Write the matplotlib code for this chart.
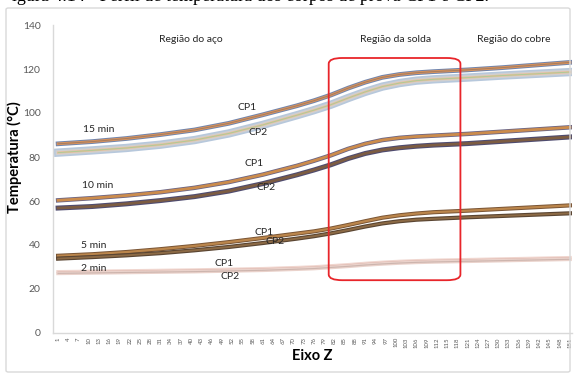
import matplotlib.pyplot as plt
from matplotlib.patches import FancyBboxPatch

# positions along Z where values were read (category index 1..151)
z_pos = [1, 11, 21, 31, 41, 51, 61, 71, 76, 81, 86, 91, 96, 101, 106, 111, 121, 131, 141, 151]

t15_cp1 = [86.0, 87.0, 88.4, 90.2, 92.3, 95.3, 99.2, 103.3, 105.6, 108.2, 111.3, 114.0, 116.2, 117.5, 118.3, 118.8, 119.6, 120.6, 121.8, 123.0]
t15_cp2 = [82.0, 83.0, 84.1, 85.6, 87.7, 90.7, 94.6, 99.0, 101.3, 103.8, 106.8, 109.6, 112.0, 113.6, 114.7, 115.3, 116.1, 117.0, 117.8, 118.6]
t10_cp1 = [60.3, 61.3, 62.5, 64.0, 66.0, 68.6, 72.0, 76.0, 78.3, 80.8, 83.7, 86.0, 87.7, 88.7, 89.3, 89.7, 90.5, 91.5, 92.5, 93.5]
t10_cp2 = [56.8, 57.5, 58.7, 60.2, 62.0, 64.5, 67.9, 71.9, 74.1, 76.5, 79.3, 81.6, 83.2, 84.2, 84.9, 85.4, 86.1, 87.1, 88.1, 89.1]
t5_cp1 = [35.1, 35.8, 36.8, 38.1, 39.6, 41.3, 43.2, 45.2, 46.2, 47.5, 49.1, 50.8, 52.4, 53.5, 54.3, 54.9, 55.6, 56.4, 57.2, 58.0]
t5_cp2 = [33.8, 34.5, 35.3, 36.3, 37.6, 39.1, 40.9, 42.9, 44.0, 45.3, 46.8, 48.4, 49.8, 50.8, 51.5, 51.9, 52.6, 53.2, 53.8, 54.4]
t2_cp1 = [27.8, 28.0, 28.2, 28.4, 28.6, 28.9, 29.2, 29.7, 30.0, 30.5, 31.0, 31.6, 32.1, 32.5, 32.8, 33.0, 33.3, 33.6, 33.9, 34.2]
t2_cp2 = [27.1, 27.3, 27.5, 27.7, 27.9, 28.2, 28.5, 29.0, 29.3, 29.8, 30.3, 30.9, 31.4, 31.8, 32.1, 32.3, 32.6, 32.9, 33.2, 33.5]

x_ticks = list(range(1, 152, 3))

plt.rcParams['font.family'] = ['Lato', 'DejaVu Sans']

fig = plt.figure(figsize=(5.75, 3.76), dpi=100)
ax = fig.add_axes([53 / 575, 43 / 376, 519 / 575, 308 / 376])

# outer chart border
fig.patches.append(FancyBboxPatch((6 / 575, 4 / 376), 564 / 575, 364 / 376,
                                  boxstyle="round,pad=0,rounding_size=0.004",
                                  transform=fig.transFigure, fill=False,
                                  ec="#d9d9d9", lw=1.0))

# caption of the source document, cut by the top edge
fig.text(0.02, 1 - 1 / 376, "igura 4.14 - Perfil de temperatura dos corpos de prova CP1 e CP2.",
         family="Liberation Serif", fontsize=13, va="baseline", ha="left")

# each curve drawn as a bundle: wide base + thinner lines on top
bundles = [
    (t15_cp1, [("#6f84ad", 3.4), ("#d9935c", 2.0), ("#a07a60", 0.6)]),
    (t15_cp2, [("#b7c8dc", 6.0), ("#d0d0d0", 3.6), ("#e8bf9c", 1.6), ("#a9cc96", 0.6)]),
    (t10_cp1, [("#6b6585", 3.2), ("#cc8c4c", 2.0)]),
    (t10_cp2, [("#4f4c70", 3.6), ("#7c5c42", 2.0)]),
    (t5_cp1, [("#7a5535", 3.0), ("#bb864c", 1.6)]),
    (t5_cp2, [("#5a4532", 3.0), ("#8c6a45", 1.4)]),
    (t2_cp1, [("#f0d6cf", 2.6), ("#dcb0a6", 0.8)]),
    (t2_cp2, [("#ead2cb", 2.6), ("#cdb5ae", 0.8)]),
]
for values, layers in bundles:
    for color, lw in layers:
        ax.plot(z_pos, values, color=color, lw=lw, solid_joinstyle="round")

# weld region box
ax.add_patch(FancyBboxPatch((80.3, 24.0), 38.6, 101.0,
                            boxstyle="round,pad=0,rounding_size=4",
                            mutation_aspect=1.0 / 1.55, fill=False,
                            ec="#e8252a", lw=1.3, zorder=5))

lbl = dict(fontsize=7.5, color="#262626", ha="center", va="center")
ax.text(40, 133.2, "Região do aço", **lbl)
ax.text(99.8, 133.2, "Região da solda", **lbl)
ax.text(134.5, 133.2, "Região do cobre", **lbl)

ax.text(13, 92.5, "15 min", **lbl)
ax.text(56.5, 102.5, "CP1", **lbl)
ax.text(59.5, 91.0, "CP2", **lbl)
ax.text(12.7, 67.0, "10 min", **lbl)
ax.text(58.5, 77.0, "CP1", **lbl)
ax.text(62.0, 66.0, "CP2", **lbl)
ax.text(11.5, 40.0, "5 min", **lbl)
ax.text(61.5, 45.5, "CP1", **lbl)
ax.text(64.5, 41.5, "CP2", **lbl)
ax.text(11.5, 29.5, "2 min", **lbl)
ax.text(49.5, 31.8, "CP1", **lbl)
ax.text(51.5, 25.5, "CP2", **lbl)

ax.set_xlim(-0.5, 151.6)
ax.set_ylim(0, 140)
ax.set_yticks(range(0, 141, 20))
ax.set_xticks(x_ticks)
ax.set_xticklabels([str(v) for v in x_ticks], rotation=90, fontsize=4.3, color="#595959")
ax.tick_params(axis="y", labelsize=7.5, colors="#595959", length=0, pad=9)
ax.tick_params(axis="x", length=0, pad=3)

for side in ["top", "right"]:
    ax.spines[side].set_visible(False)
for side in ["left", "bottom"]:
    ax.spines[side].set_color("#d9d9d9")
    ax.spines[side].set_linewidth(1.0)

ax.set_ylabel("Temperatura (°C)", fontsize=10.5, fontweight="bold")
ax.yaxis.set_label_coords(-0.059, 0.571)
ax.set_xlabel("Eixo Z", fontsize=10.5, fontweight="bold", labelpad=1)

fig.savefig("out.png", dpi=100)
